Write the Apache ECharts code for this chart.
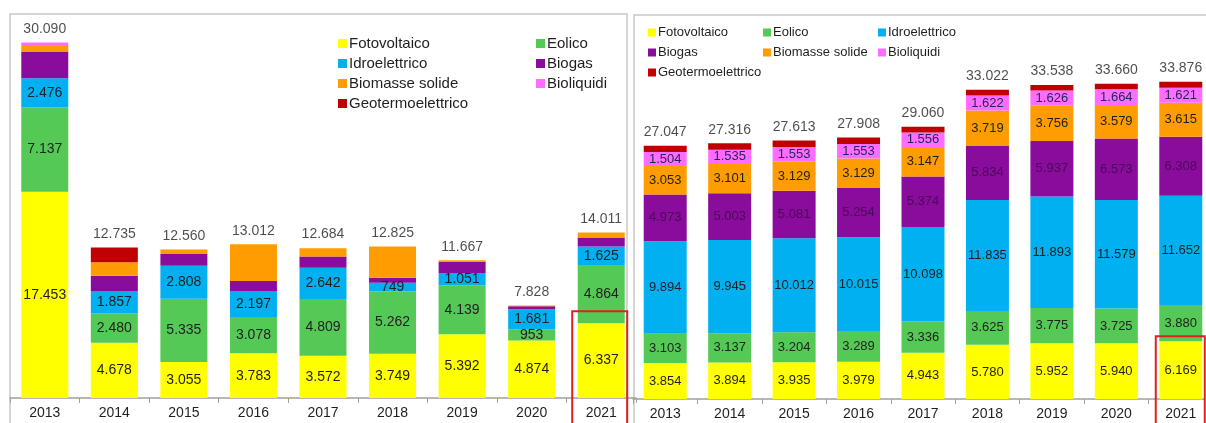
<!DOCTYPE html>
<html>
<head>
<meta charset="utf-8">
<script src="https://cdn.jsdelivr.net/npm/echarts@6/dist/echarts.min.js"></script>
<style>
  html, body { margin: 0; padding: 0; background: #fff; }
  #chart { width: 1206px; height: 423px; }
</style>
</head>
<body>
<div id="chart"></div>
<script>
// categories (both panels)
const years = ['2013', '2014', '2015', '2016', '2017', '2018', '2019', '2020', '2021']

// left panel - yearly values by source
const fotoL = [17453, 4678, 3055, 3783, 3572, 3749, 5392, 4874, 6337]
const eolicoL = [7137, 2480, 5335, 3078, 4809, 5262, 4139, 953, 4864]
const idroL = [2476, 1857, 2808, 2197, 2642, 749, 1051, 1681, 1625]
const biogasL = [2270, 1330, 1000, 854, 960, 420, 930, 250, 760]
const biomasseL = [530, 1150, 362, 3100, 701, 2645, 155, 70, 425]
const bioliquidiL = [224, 0, 0, 0, 0, 0, 0, 0, 0]
const geoL = [0, 1240, 0, 0, 0, 0, 0, 0, 0]
const totalL = [30090, 12735, 12560, 13012, 12684, 12825, 11667, 7828, 14011]

// right panel - cumulative values by source
const fotoR = [3854, 3894, 3935, 3979, 4943, 5780, 5952, 5940, 6169]
const eolicoR = [3103, 3137, 3204, 3289, 3336, 3625, 3775, 3725, 3880]
const idroR = [9894, 9945, 10012, 10015, 10098, 11835, 11893, 11579, 11652]
const biogasR = [4973, 5003, 5081, 5254, 5374, 5834, 5937, 6573, 6308]
const biomasseR = [3053, 3101, 3129, 3129, 3147, 3719, 3756, 3579, 3615]
const bioliquidiR = [1504, 1535, 1553, 1553, 1556, 1622, 1626, 1664, 1621]
const geoR = [666, 701, 699, 689, 606, 607, 599, 600, 631]
const totalR = [27047, 27316, 27613, 27908, 29060, 33022, 33538, 33660, 33876]

const COLORS = {
  Fotovoltaico: '#ffff00',
  Eolico: '#55c955',
  Idroelettrico: '#00b0f0',
  Biogas: '#8a0c9c',
  'Biomasse solide': '#ff9c00',
  Bioliquidi: '#ff6cff',
  Geotermoelettrico: '#c00000',
}
const TEXT = '#1f1f1f'
const FONT = '"Liberation Sans", Arial, sans-serif'

// 17453 -> "17.453"
function fmt(v) {
  return String(v).replace(/\B(?=(\d{3})+(?!\d))/g, '.')
}

function barSeries(name, data, idx, showLabel, labelColor) {
  return {
    name,
    type: 'bar',
    data,
    stack: idx === 0 ? 'L' : 'R',
    xAxisIndex: idx,
    yAxisIndex: idx,
    barWidth: idx === 0 ? 47 : 43,
    itemStyle: { color: COLORS[name] },
    label: {
      show: showLabel,
      position: 'inside',
      color: labelColor || TEXT,
      fontFamily: FONT,
      fontSize: idx === 0 ? 14 : 13,
      formatter: p => (p.value > 0 ? fmt(p.value) : ''),
    },
  }
}

function totalSeries(data, idx) {
  return {
    name: 'totale' + idx,
    type: 'scatter',
    data,
    xAxisIndex: idx,
    yAxisIndex: idx,
    symbolSize: 1,
    itemStyle: { color: 'rgba(0,0,0,0)' },
    z: 10,
    label: {
      show: true,
      position: 'top',
      distance: 6,
      color: TEXT,
      fontFamily: FONT,
      fontSize: 14,
      formatter: p => fmt(p.value),
    },
  }
}

function legend(data, left, top, size, gap) {
  return {
    orient: 'vertical',
    left,
    top,
    data,
    icon: 'rect',
    itemWidth: size === 15 ? 9 : 8,
    itemHeight: size === 15 ? 9 : 8,
    itemGap: gap,
    selectedMode: false,
    textStyle: { fontFamily: FONT, fontSize: size, color: TEXT, padding: [0, 0, 0, -3] },
  }
}

const xAxisBase = {
  type: 'category',
  data: years,
  axisLine: { lineStyle: { color: '#a0a0a0', width: 1.5 } },
  axisTick: { show: true, length: 5, lineStyle: { color: '#a0a0a0' } },
  axisLabel: { color: TEXT, fontFamily: FONT, fontSize: 14, margin: 8 },
}

const chart = echarts.init(document.getElementById('chart'), null, { renderer: 'canvas' })

const option = {
  backgroundColor: '#ffffff',
  animation: false,
  grid: [
    { left: 10, top: 14, width: 626, height: 384, outerBoundsMode: 'none' },
    { left: 633, top: 15, width: 580, height: 384, outerBoundsMode: 'none' },
  ],
  xAxis: [
    Object.assign({ gridIndex: 0 }, xAxisBase),
    Object.assign({ gridIndex: 1 }, xAxisBase),
  ],
  yAxis: [
    { gridIndex: 0, type: 'value', min: 0, max: 32500, show: false },
    { gridIndex: 1, type: 'value', min: 0, max: 41000, show: false },
  ],
  legend: [
    legend(['Fotovoltaico', 'Idroelettrico', 'Biomasse solide', 'Geotermoelettrico'], 333, 31, 15, 5),
    legend(['Eolico', 'Biogas', 'Bioliquidi'], 531, 31, 15, 5),
    legend(['Fotovoltaico', 'Biogas', 'Geotermoelettrico'], 643, 21, 13, 7),
    legend(['Eolico', 'Biomasse solide'], 758, 21, 13, 7),
    legend(['Idroelettrico', 'Bioliquidi'], 873, 21, 13, 7),
  ],
  series: [
    barSeries('Fotovoltaico', fotoL, 0, true),
    barSeries('Eolico', eolicoL, 0, true),
    barSeries('Idroelettrico', idroL, 0, true),
    barSeries('Biogas', biogasL, 0, false),
    barSeries('Biomasse solide', biomasseL, 0, false),
    barSeries('Bioliquidi', bioliquidiL, 0, false),
    barSeries('Geotermoelettrico', geoL, 0, false),
    totalSeries(totalL, 0),
    barSeries('Fotovoltaico', fotoR, 1, true),
    barSeries('Eolico', eolicoR, 1, true),
    barSeries('Idroelettrico', idroR, 1, true),
    barSeries('Biogas', biogasR, 1, true, '#4a0a58'),
    barSeries('Biomasse solide', biomasseR, 1, true),
    barSeries('Bioliquidi', bioliquidiR, 1, true, '#1a2a50'),
    barSeries('Geotermoelettrico', geoR, 1, false),
    totalSeries(totalR, 1),
  ],
}

chart.setOption(option)

// panel frames + red highlight round the 2021 bars
const pL = chart.convertToPixel({ gridIndex: 0 }, ['2021', fotoL[8]])
const pR = chart.convertToPixel({ gridIndex: 1 }, ['2021', fotoR[8]])
chart.setOption({
  graphic: [
    { type: 'rect', shape: { x: 10, y: 14, width: 617, height: 440 }, style: { fill: 'none', stroke: '#c8c8c8', lineWidth: 1.5 }, z: -1, silent: true },
    { type: 'rect', shape: { x: 634, y: 15, width: 600, height: 440 }, style: { fill: 'none', stroke: '#c8c8c8', lineWidth: 1.5 }, z: -1, silent: true },
    { type: 'rect', shape: { x: pL[0] - 29, y: pL[1] - 12, width: 55, height: 140 }, style: { fill: 'none', stroke: '#e02020', lineWidth: 2 }, z: 100, silent: true },
    { type: 'rect', shape: { x: pR[0] - 25, y: pR[1] - 5, width: 49, height: 120 }, style: { fill: 'none', stroke: '#e02020', lineWidth: 2 }, z: 100, silent: true },
  ],
})
</script>
</body>
</html>
